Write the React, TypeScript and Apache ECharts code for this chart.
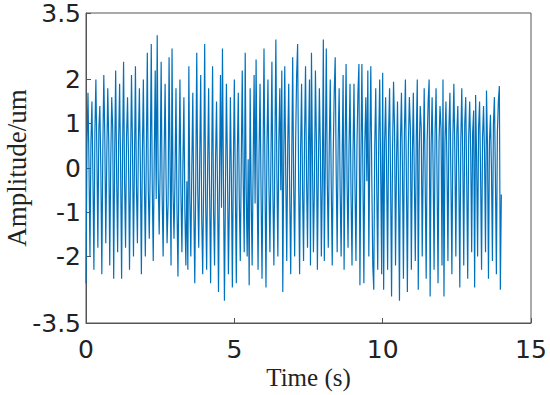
import React, { useEffect, useRef } from "react";
import * as echarts from "echarts";

// Samples per second of the recorded signal
const samplesPerSecond = 30;

// Amplitude (um), one row per second of recording
const amp_s00 = [-2.6, 0.5, 1.7, 0.1, -2.0, 0.6, 1.5, -0.2, -2.3, 0.8, 2.0, 0.3, -1.8, 0.9, 1.4, 0.0, -2.4, 0.4, 2.1, 0.7, -1.7, 0.2, 1.8, 0.6, -2.2, 0.1, 1.6, 0.9, -2.5, 0.3];
const amp_s01 = [2.2, -0.2, -1.9, 0.6, 1.9, 0.0, -2.5, 0.4, 2.4, -0.3, -1.8, 0.7, 1.6, 0.2, -2.3, -0.1, 2.1, 0.5, -2.0, 0.1, 2.3, -0.4, -1.7, 0.6, 1.8, 0.0, -2.4, 0.3, 2.0, -0.2];
const amp_s02 = [-2.0, 0.3, 2.6, -0.5, -1.6, 0.1, 2.8, -0.4, -2.1, 0.2, 2.2, -0.7, 3.0, -0.2, -1.5, 0.0, 2.4, -0.6, -2.0, 0.3, 1.9, -0.3, -1.7, -0.8, 2.5, 0.1, -2.2, 2.7, -0.5, -1.6];
const amp_s03 = [-0.2, 1.8, -0.9, -2.45, -0.1, 2.0, -0.6, -1.9, 0.1, 1.6, -1.0, -2.2, -0.3, -2.3, 2.3, -0.7, -2.0, 0.0, 1.7, -0.9, -2.6, -0.2, 2.6, -0.5, -1.8, 0.2, 2.1, -1.1, -2.4, -0.3];
const amp_s04 = [2.8, -0.8, -2.3, 0.0, 1.8, -0.6, -2.6, -0.1, 2.3, -1.0, -2.2, 0.2, 1.5, -0.5, -2.8, -0.2, 2.1, -0.9, 2.7, -0.3, -3.0, -0.6, 1.9, 0.1, -2.4, -0.8, 1.6, -0.2, -2.7, 0.0];
const amp_s05 = [2.0, -0.4, -2.6, 0.3, 1.7, -0.7, -2.1, 0.1, 2.2, -0.3, -1.9, 2.6, -0.5, -2.0, 0.2, -2.65, 1.8, -0.6, -2.2, 0.0, 2.1, -0.8, 2.45, -0.2, -2.3, 0.3, 1.9, -0.5, -2.5, 0.1];
const amp_s06 = [2.7, -0.3, -2.7, 0.5, 2.0, -0.4, -1.9, 0.2, 2.4, -0.6, -2.2, 0.4, 2.9, -0.1, -2.0, 0.6, 1.8, -0.5, 2.2, -2.8, 0.3, 2.3, -0.2, -2.1, 0.5, 1.9, -0.6, -2.4, 0.1, 2.5];
const amp_s07 = [-0.4, -2.0, 0.6, 2.1, 2.8, -0.3, -2.4, 0.4, 1.9, -0.5, -2.1, 0.7, 2.3, -0.2, -1.8, 0.5, 2.0, -2.2, 2.6, 0.2, -1.9, -0.4, 2.2, 0.6, -2.3, 0.0, 1.8, 0.4, -2.0, -0.3];
const amp_s08 = [2.9, -2.1, 0.2, 2.7, -0.3, -1.8, 0.5, 2.0, -0.4, -2.2, 0.3, 1.7, 2.5, -0.1, -1.9, 0.6, 1.8, -0.5, -2.0, 0.2, 2.1, -2.3, 0.4, 2.35, -0.3, -1.8, 0.5, 1.9, -0.6, -2.2];
const amp_s09 = [0.3, 1.9, -0.4, -2.1, 0.5, 1.7, 2.35, -2.65, 0.2, 2.35, -0.1, -2.6, 0.6, 1.6, -0.3, 2.2, -2.0, 0.4, 2.3, -0.2, -2.2, -2.75, 0.5, 1.8, -0.4, -2.3, 0.6, 2.0, -0.1, -2.4];
const amp_s10 = [2.15, -2.75, 0.6, 1.6, -0.1, -2.3, 0.8, 1.8, -0.3, -2.9, 0.4, 1.95, 0.9, -2.2, 0.1, 1.5, -0.4, -3.0, 0.6, 1.7, 0.0, -2.5, 0.8, 2.0, -0.2, -2.8, 0.5, 1.6, 0.9, -2.3];
const amp_s11 = [0.2, 1.7, -0.2, -2.1, 0.7, 2.0, -2.75, 0.4, 1.4, 0.9, -2.0, 0.1, 1.8, -0.3, -2.5, 0.6, 1.5, 2.0, -2.9, 0.5, 1.6, 0.0, -2.3, 0.8, 1.8, -0.2, -2.6, 0.6, 1.4, 0.9];
const amp_s12 = [-2.2, 2.0, -2.9, 0.6, 1.5, 0.1, -2.1, 0.9, 1.7, -0.2, -2.4, 0.7, 1.9, 0.3, -2.0, 0.8, 1.4, -0.1, -2.7, 0.6, 1.8, 0.2, -2.2, 1.0, 1.6, -0.3, -2.5, 0.7, 1.5, 0.4];
const amp_s13 = [-1.9, 0.8, 1.3, -2.7, 1.65, 0.2, -2.0, 0.9, 1.5, -0.1, -2.3, 0.7, 1.4, 0.3, -1.9, 1.75, 0.5, -2.5, 0.6, 1.2, 0.0, -2.1, 1.0, 1.6, -0.2, -2.4, 0.8, 1.5, 1.85, -2.75];
const amp_end = [-0.6];

// Axis ticks
const xTicks = { min: 0, max: 15, interval: 5 };
const yTickValues = [-3.5, -2, -1, 0, 1, 2, 3.5];
const yRange = { min: -3.5, max: 3.5 };

const amplitude = [
  ...amp_s00, ...amp_s01, ...amp_s02, ...amp_s03, ...amp_s04,
  ...amp_s05, ...amp_s06, ...amp_s07, ...amp_s08, ...amp_s09,
  ...amp_s10, ...amp_s11, ...amp_s12, ...amp_s13, ...amp_end,
];

export default function App() {
  const ref = useRef<HTMLDivElement>(null);

  useEffect(() => {
    if (!ref.current) return;
    const chart = echarts.init(ref.current, undefined, { renderer: "svg" });
    const data = amplitude.map((v, i) => [+(i / samplesPerSecond).toFixed(4), v]);
    const axisColor = "#555";
    chart.setOption({
      animation: false,
      backgroundColor: "#fff",
      grid: {
        left: 86,
        right: 19,
        top: 13,
        bottom: 72,
        containLabel: false,
        outerBoundsMode: "none",
        show: true,
        borderColor: axisColor,
        borderWidth: 1,
        backgroundColor: "transparent",
      },
      xAxis: {
        type: "value",
        min: xTicks.min,
        max: xTicks.max,
        interval: xTicks.interval,
        name: "Time (s)",
        nameLocation: "middle",
        nameGap: 42,
        nameMoveOverlap: false,
        nameTextStyle: { fontFamily: "Liberation Serif", fontSize: 25, color: "#222", verticalAlign: "top" },
        axisLine: { show: true, onZero: false, lineStyle: { color: axisColor, width: 1 } },
        axisTick: { show: true, inside: true, length: 5, lineStyle: { color: axisColor } },
        axisLabel: { fontFamily: "DejaVu Sans", fontSize: 25, color: "#222", margin: 14 },
        splitLine: { show: false },
      },
      yAxis: {
        type: "value",
        min: yRange.min,
        max: yRange.max,
        name: "Amplitude/um",
        nameLocation: "middle",
        nameGap: 56,
        nameMoveOverlap: false,
        nameRotate: 90,
        nameTextStyle: { fontFamily: "Liberation Serif", fontSize: 27, color: "#222" },
        axisLine: { show: true, onZero: false, lineStyle: { color: axisColor, width: 1 } },
        axisTick: { show: true, inside: true, length: 5, customValues: yTickValues, lineStyle: { color: axisColor } },
        axisLabel: {
          fontFamily: "DejaVu Sans",
          fontSize: 25,
          color: "#222",
          margin: 5,
          customValues: yTickValues,
          formatter: (v: number) => String(v),
        },
        splitLine: { show: false },
      },
      series: [
        {
          type: "line",
          data,
          showSymbol: false,
          symbol: "none",
          lineStyle: { color: "#0072BD", width: 1.2 },
          z: 1,
        },
      ],
    });
    return () => chart.dispose();
  }, []);

  return (
    <div
      ref={ref}
      style={{ position: "fixed", left: 0, top: 0, width: 550, height: 395 }}
    />
  );
}
